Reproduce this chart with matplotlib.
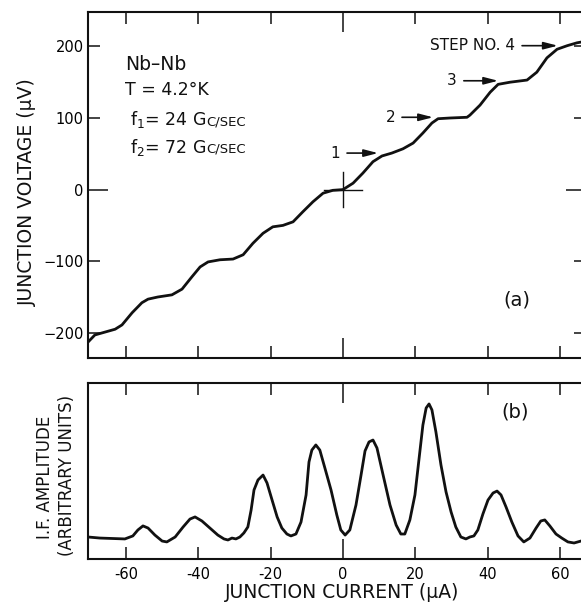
import numpy as np
import matplotlib
matplotlib.use("Agg")
import matplotlib.pyplot as plt

# ---- data ----
# (a) junction voltage vs current
current_a = [-70.5, -68.6, -65.8, -63.0, -61.1, -58.3, -55.6, -53.9, -51.2, -47.3,
             -44.5, -41.8, -39.5, -37.3, -34.0, -30.4, -27.6, -24.9, -22.1, -19.4,
             -16.6, -13.8, -11.1, -8.3, -5.5, -2.8, 0.0, 2.8, 5.5, 8.3,
             10.8, 13.5, 16.6, 19.4, 22.1, 24.6, 26.3, 29.6, 34.3, 35.1,
             37.9, 40.7, 42.9, 46.2, 50.9, 53.6, 56.4, 59.2, 62.0, 64.7, 65.8, 67.2]
voltage_a = [-213, -203, -199, -195, -189, -172, -158, -153, -150, -147,
             -139, -122, -108, -101, -98, -97, -91, -75, -61, -52,
             -50, -45, -31, -17, -5, -1, 0, 9, 23, 39,
             47, 51, 57, 65, 79, 93, 99, 100, 101, 104,
             118, 136, 147, 150, 153, 164, 184, 196, 201, 205, 206, 207]

# (b) I.F. amplitude vs current (arbitrary units, 0..1 of panel height)
current_b = [-70.5, -67.2, -60.3, -58.1, -56.7, -55.3, -53.9, -52.0, -50.0, -48.7,
             -46.4, -44.2, -42.3, -40.9, -39.0, -36.8, -34.6, -32.9, -31.8, -30.7,
             -29.6, -28.5, -27.4, -26.3, -25.4, -24.6, -23.5, -22.1, -21.0, -19.6,
             -18.2, -16.9, -15.5, -14.4, -13.0, -11.6, -10.2, -9.4, -8.6, -7.5,
             -6.4, -5.0, -3.3, -1.7, -0.6, 0.6, 1.9, 3.6, 5.0, 6.1,
             7.2, 8.3, 9.4, 11.1, 13.0, 14.7, 16.0, 17.1, 18.5, 19.9,
             21.0, 22.1, 23.0, 23.8, 24.6, 25.7, 27.1, 28.5, 29.9, 31.2,
             32.6, 34.0, 35.1, 36.2, 37.3, 38.7, 40.1, 41.5, 42.6, 43.7,
             45.1, 46.7, 48.4, 50.0, 51.7, 53.4, 54.7, 55.8, 57.2, 58.9,
             60.5, 62.2, 63.9, 65.8, 67.2]
amplitude_b = [0.125, 0.119, 0.114, 0.131, 0.165, 0.188, 0.176, 0.136, 0.102, 0.097,
               0.125, 0.182, 0.227, 0.239, 0.216, 0.176, 0.136, 0.114, 0.108, 0.119,
               0.114, 0.125, 0.148, 0.182, 0.278, 0.392, 0.449, 0.477, 0.432, 0.335,
               0.239, 0.176, 0.142, 0.131, 0.142, 0.210, 0.364, 0.551, 0.619, 0.648,
               0.619, 0.517, 0.392, 0.250, 0.165, 0.136, 0.165, 0.307, 0.477, 0.614,
               0.665, 0.676, 0.631, 0.477, 0.307, 0.193, 0.142, 0.142, 0.222, 0.364,
               0.563, 0.761, 0.858, 0.881, 0.847, 0.722, 0.534, 0.381, 0.267, 0.182,
               0.125, 0.114, 0.125, 0.131, 0.165, 0.256, 0.335, 0.375, 0.386, 0.364,
               0.295, 0.210, 0.131, 0.097, 0.119, 0.176, 0.216, 0.222, 0.188, 0.142,
               0.119, 0.097, 0.091, 0.102, 0.108]

# step markers: label, label right edge (uA), arrow tip (uA), voltage (uV)
step_labels = ["1", "2", "3", "STEP NO. 4"]
step_text_x = [-0.8, 14.4, 31.5, 47.6]
step_tip_x = [9.7, 24.9, 42.9, 59.4]
step_v = [51, 101, 152, 201]

x_major = [-60, -40, -20, 20, 40, 60]
v_major = [-200, -100, 100, 200]
cross_di, cross_dv = 5.3, 24

ink = "#111111"
plt.rcParams["font.family"] = "DejaVu Sans"

fig = plt.figure(figsize=(5.81, 6.04), dpi=100)
W, H = 581.0, 604.0
left, right = 88 / W, 586 / W
axA = fig.add_axes([left, 1 - 358 / H, right - left, (358 - 12) / H])
axB = fig.add_axes([left, 1 - 559 / H, right - left, (559 - 383) / H])

for ax in (axA, axB):
    ax.set_xlim(-70.5, 67.2)
    for s in ax.spines.values():
        s.set_linewidth(1.5)
        s.set_color(ink)
    ax.set_xticks(x_major)
    ax.set_xticks([0], minor=True)
    ax.tick_params(axis="x", which="both", direction="in", top=True, bottom=True,
                   width=1.1, color=ink, labelsize=10.5, pad=5.5)
    ax.tick_params(axis="x", which="major", length=8.6)
    ax.tick_params(axis="x", which="minor", length=14.4)

# ---- panel (a) ----
axA.plot(current_a, voltage_a, color=ink, lw=2.0, solid_capstyle="round",
         solid_joinstyle="round")
axA.plot([-cross_di, cross_di], [0, 0], color=ink, lw=1.0)
axA.plot([0, 0], [-cross_dv, cross_dv], color=ink, lw=1.0)
axA.set_ylim((189.6 - 358) / 0.716, (189.6 - 12) / 0.716)
axA.set_yticks(v_major)
axA.set_yticks([0], labels=["0"], minor=True)
axA.tick_params(axis="y", which="both", direction="in", left=True, right=True,
                width=1.1, color=ink, labelsize=10.5, pad=3)
axA.tick_params(axis="y", which="major", length=8.6)
axA.tick_params(axis="y", which="minor", length=14.4)
axA.tick_params(axis="x", which="both", labelbottom=False)

for lab, tx, tip, v in zip(step_labels, step_text_x, step_tip_x, step_v):
    axA.annotate(lab, xy=(tip, v), xytext=(tx, v), ha="right", va="center",
                 fontsize=11, color=ink,
                 arrowprops=dict(arrowstyle="-|>,head_length=0.85,head_width=0.22",
                                 mutation_scale=10, lw=1.2, color=ink,
                                 shrinkA=3, shrinkB=0))

axA.text(0.074, 0.832, "Nb\u2013Nb", transform=axA.transAxes, fontsize=13.5,
         va="baseline", color=ink)
axA.text(0.074, 0.760, "T = 4.2\u00b0K", transform=axA.transAxes, fontsize=12.5,
         va="baseline", color=ink)
freq_rows = [("f$_1$= 24 G", 0.673), ("f$_2$= 72 G", 0.5925)]
big = []
for s, yb in freq_rows:
    big.append((axA.text(0.084, yb, s, transform=axA.transAxes, fontsize=12.5,
                         va="baseline", color=ink), yb))
axA.text(0.861, 0.168, "(a)", transform=axA.transAxes, fontsize=14,
         ha="center", va="center", color=ink)

# ---- panel (b) ----
axB.plot(current_b, amplitude_b, color=ink, lw=2.0, solid_capstyle="round",
         solid_joinstyle="round")
axB.set_ylim(0, 1)
axB.set_yticks([])
axB.set_xticks(x_major, labels=[str(v) for v in x_major])
axB.set_xticks([0], labels=["0"], minor=True)
axB.text(0.857, 0.835, "(b)", transform=axB.transAxes, fontsize=14,
         ha="center", va="center", color=ink)

fig.text(27 / W, 1 - 192 / H, "JUNCTION VOLTAGE (\u03bcV)", rotation=90,
         ha="center", va="center", fontsize=13.5, color=ink)
fig.text(45 / W, 1 - 477 / H, "I.F. AMPLITUDE", rotation=90,
         ha="center", va="center", fontsize=12, color=ink)
fig.text(67 / W, 1 - 475 / H, "(ARBITRARY UNITS)", rotation=90,
         ha="center", va="center", fontsize=12, color=ink)
fig.text(342 / W, 1 - 593 / H, "JUNCTION CURRENT (\u03bcA)",
         ha="center", va="center", fontsize=13.5, color=ink)

# small-caps tail of "Gc/sec" placed right after the big "G"
fig.canvas.draw()
r = fig.canvas.get_renderer()
for t, yb in big:
    bb = t.get_window_extent(r)
    x1 = axA.transAxes.inverted().transform((bb.x1, bb.y0))[0]
    axA.text(x1, yb, "C/SEC", transform=axA.transAxes, fontsize=9.5,
             va="baseline", color=ink)

fig.savefig("out.png", dpi=100)
